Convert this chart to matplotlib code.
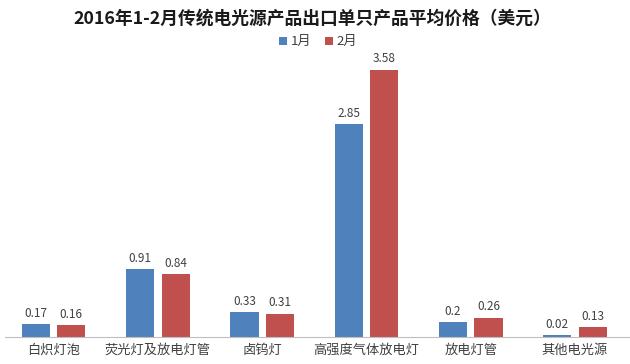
import matplotlib
matplotlib.use("Agg")
from matplotlib import pyplot as plt
import numpy as np

plt.rcParams['font.family'] = ['Noto Sans CJK SC', 'DejaVu Sans']

categories = ["白炽灯泡", "荧光灯及放电灯管", "卤钨灯", "高强度气体放电灯", "放电灯管", "其他电光源"]
jan = [0.17, 0.91, 0.33, 2.85, 0.2, 0.02]
feb = [0.16, 0.84, 0.31, 3.58, 0.26, 0.13]
series_names = ["1月", "2月"]

blue = "#4F81BD"
red = "#C0504D"

fig = plt.figure(figsize=(6.3, 3.64), dpi=100)
ax = fig.add_axes([0.0024, 0.0742, 0.993, 0.775])

x = np.arange(len(categories))
w = 0.27
off = 0.17
b1 = ax.bar(x - off, jan, w, color=blue, label=series_names[0])
b2 = ax.bar(x + off, feb, w, color=red, label=series_names[1])

for bars, vals in [(b1, jan), (b2, feb)]:
    for r, v in zip(bars, vals):
        ax.text(r.get_x() + r.get_width() / 2, v + 0.06, f"{v:g}",
                ha="center", va="bottom", fontsize=8.5, color="#404040")

ax.set_xlim(-0.5, len(categories) - 0.5)
ax.set_ylim(0, 3.78)
ax.set_yticks([])
ax.set_xticks(x)
ax.set_xticklabels(categories, fontsize=9.5, color="#404040")
ax.tick_params(axis="x", length=0, pad=5)
for s in ["top", "right", "left"]:
    ax.spines[s].set_visible(False)
ax.spines["bottom"].set_color("#BFBFBF")
ax.spines["bottom"].set_bounds(-0.47, len(categories) - 0.47)

fig.text(0.495, 0.95, "2016年1-2月传统电光源产品出口单只产品平均价格（美元）",
         ha="center", va="center", fontsize=12.8, fontweight="bold", color="#1a1a1a")
fig.legend(loc="center", bbox_to_anchor=(0.505, 0.885), ncol=2, frameon=False,
           fontsize=9.5, handlelength=0.6, handleheight=0.6, columnspacing=1.0,
           handletextpad=0.3, labelcolor="#404040")

fig.savefig("out.png", dpi=100)
